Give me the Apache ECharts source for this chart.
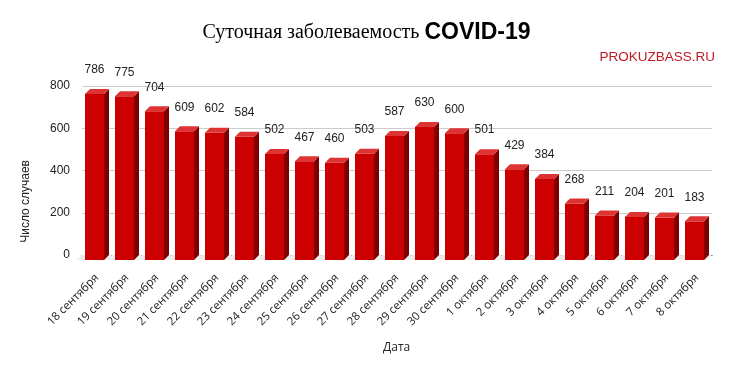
<!DOCTYPE html>
<html><head><meta charset="utf-8">
<script src="https://cdn.jsdelivr.net/npm/echarts@6/dist/echarts.min.js"></script>
<style>html,body{margin:0;padding:0;background:#fff}#c{width:733px;height:374px}</style>
</head><body><div id="c"></div>
<script>
var categories = ["18 сентября","19 сентября","20 сентября","21 сентября","22 сентября","23 сентября","24 сентября","25 сентября","26 сентября","27 сентября","28 сентября","29 сентября","30 сентября","1 октября","2 октября","3 октября","4 октября","5 октября","6 октября","7 октября","8 октября"];
var cases = [786,775,704,609,602,584,502,467,460,503,587,630,600,501,429,384,268,211,204,201,183];
var yTicks = [0,200,400,600,800];

var chart = echarts.init(document.getElementById('c'), null, {renderer:'canvas'});
var W = 19, D = 5;
function renderBar(params, api){
  var i = api.value(0), v = api.value(1);
  var top = api.coord([i, v]);
  var base = api.coord([i, 0]);
  var cx = top[0], y = top[1], b = base[1];
  var fx = cx - (W + D)/2;
  var band = api.size([1,0])[0];
  return {type:'group', children:[
    {type:'polygon', shape:{points:[[cx-band/2-D, b+D],[cx-band/2, b],[cx+band/2, b],[cx+band/2-D, b+D]]}, style:{fill:'#ebebeb'}, z2:0},
    {type:'rect', shape:{x:fx, y:y+D, width:W, height:b-y}, style:{fill:'#cc0000'}, z2:2},
    {type:'polygon', shape:{points:[[fx+W, y+D],[fx+W+D, y],[fx+W+D, b],[fx+W, b+D]]}, style:{fill:'#7f0000'}, z2:2},
    {type:'polygon', shape:{points:[[fx, y+D],[fx+D, y],[fx+W+D, y],[fx+W, y+D]]}, style:{fill:'#dd3333'}, z2:2},
    {type:'text', style:{text:String(v), x:fx+W/2, y:y-19, align:'center', verticalAlign:'middle', fill:'#222', font:'12px "Liberation Sans", Arial, sans-serif'}, z2:3}
  ]};
}

chart.setOption({
  animation:false,
  title:{
    text:'{a|Суточная заболеваемость }{b|COVID-19}',
    left:'center', top:16,
    textStyle:{fontWeight:'normal', rich:{
      a:{fontFamily:'"Liberation Serif", "Times New Roman", serif', fontSize:20, fontWeight:'normal', color:'#000'},
      b:{fontFamily:'"Liberation Sans", Arial, sans-serif', fontSize:23, fontWeight:'bold', color:'#000'}
    }}
  },
  graphic:[
    {type:'text', right:18, top:50, style:{text:'PROKUZBASS.RU', fill:'#bf1a24', font:'13.5px "Liberation Sans", Arial, sans-serif'}},
    {type:'text', left:20, top:160, rotation:Math.PI/2, style:{text:'Число случаев', fill:'#222', font:'12px "Liberation Sans", Arial, sans-serif'}, originX:0, originY:0},
    {type:'text', left:383, top:342, style:{text:'Дата', fill:'#222', font:'12px "Open Sans", sans-serif'}}
  ],
  grid:{left:82, right:21, top:86, bottom:119},
  xAxis:{type:'category', data:categories, axisTick:{show:false},
    axisLine:{show:true, lineStyle:{color:'#333', width:1}},
    axisLabel:{rotate:45, margin:21, interval:0, color:'#222', fontFamily:'"Open Sans", sans-serif', fontSize:11.5}},
  yAxis:{type:'value', min:0, max:800, interval:200,
    axisLine:{show:false}, axisTick:{show:false},
    splitLine:{lineStyle:{color:'#cccccc'}},
    axisLabel:{color:'#222', fontFamily:'"Liberation Sans", Arial, sans-serif', fontSize:12, margin:12}},
  series:[{type:'custom', renderItem:renderBar, clip:false,
    encode:{x:0, y:1},
    data:cases.map(function(v,i){return [i,v];})}]
});
</script></body></html>
